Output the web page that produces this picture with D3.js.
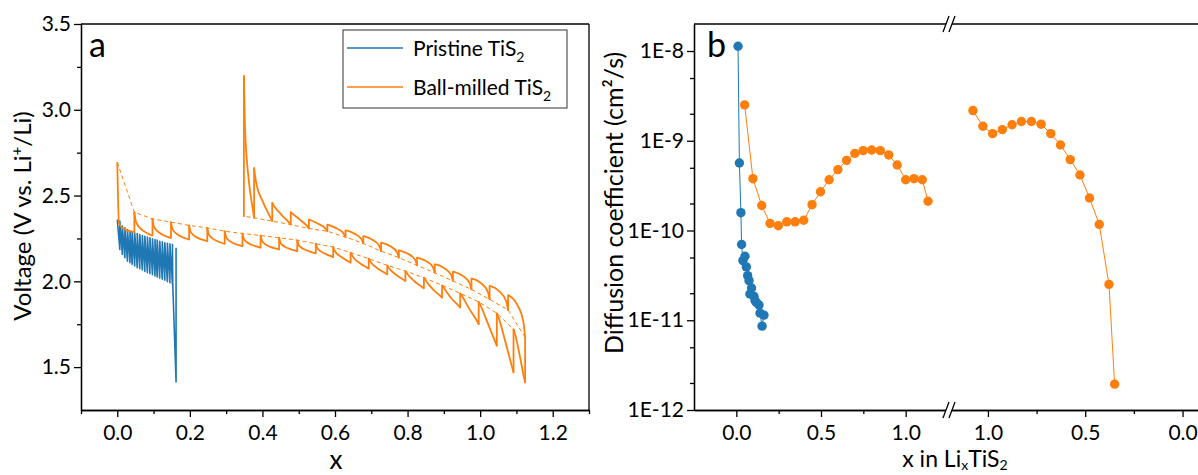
<!DOCTYPE html>
<html><head><meta charset="utf-8">
<script src="https://cdn.jsdelivr.net/npm/d3@7"></script>
<style>
body{margin:0;background:#fff}
svg{display:block}
text{font-family:Lato,"Open Sans",sans-serif;fill:#000}
</style></head><body>
<svg id="chart" width="1198" height="475"></svg>
<script>
// ---------------- Panel a data ----------------
// Pristine TiS2 GITT (discharge only)
const prX   = [0.000,0.007,0.014,0.021,0.028,0.035,0.041,0.048,0.055,0.062,0.069,0.076,0.083,0.090,0.097,0.104,0.110,0.117,0.124,0.131,0.138,0.145,0.152];
const prTop = [2.360,2.351,2.322,2.312,2.302,2.293,2.287,2.283,2.279,2.273,2.267,2.263,2.258,2.254,2.248,2.244,2.240,2.234,2.231,2.225,2.221,2.219,2.215];
const prBot = [2.186,2.157,2.138,2.118,2.109,2.099,2.089,2.080,2.074,2.066,2.058,2.051,2.045,2.039,2.031,2.025,2.019,2.012,2.006,1.998,1.992,1.984];
const prDiveX = [0.153,0.162,0.162];
const prDiveV = [1.975,1.413,2.196];

// Ball-milled TiS2 discharge pulses (x boundaries, relaxed top, values at 10/50/90 % of pulse, end)
const bdX   = [0.000,0.047,0.097,0.148,0.198,0.248,0.296,0.345,0.395,0.446,0.496,0.547,0.595,0.643,0.693,0.744,0.794,0.845,0.895,0.945,0.996,1.046,1.092,1.124];
const bdTop = [2.694,2.403,2.364,2.345,2.326,2.312,2.292,2.279,2.267,2.254,2.240,2.219,2.200,2.167,2.132,2.093,2.060,2.021,1.977,1.930,1.880,1.814,1.721];
const bd10  = [2.335,2.342,2.314,2.300,2.285,2.270,2.253,2.242,2.231,2.220,2.208,2.192,2.175,2.147,2.113,2.076,2.044,2.005,1.962,1.914,1.860,1.790,1.700];
const bd50  = [2.300,2.294,2.274,2.264,2.252,2.238,2.222,2.213,2.202,2.192,2.181,2.163,2.140,2.107,2.074,2.037,1.999,1.953,1.903,1.838,1.756,1.652,1.580];
const bd90  = [2.290,2.271,2.256,2.247,2.237,2.222,2.208,2.199,2.189,2.179,2.166,2.145,2.114,2.080,2.047,2.009,1.967,1.915,1.859,1.770,1.650,1.505,1.440];
const bdBot = [2.287,2.267,2.252,2.244,2.234,2.219,2.205,2.196,2.186,2.176,2.163,2.141,2.109,2.074,2.041,2.002,1.959,1.905,1.847,1.750,1.624,1.469,1.411];

// Ball-milled TiS2 charge pulses (x decreasing)
const bcX    = [1.124,1.077,1.026,0.976,0.925,0.875,0.826,0.776,0.727,0.678,0.629,0.579,0.528,0.478,0.427,0.377,0.349];
const bcOCV  = [1.673,1.833,1.895,1.953,2.002,2.050,2.093,2.138,2.176,2.221,2.258,2.292,2.308,2.331,2.351,2.370,2.380];
const bc10   = [1.762,1.884,1.940,1.990,2.038,2.082,2.125,2.169,2.206,2.245,2.278,2.307,2.322,2.344,2.373,2.411];
const bc50   = [1.870,1.944,1.991,2.034,2.078,2.119,2.161,2.206,2.243,2.278,2.309,2.336,2.360,2.388,2.460,2.577];
const bc90   = [1.914,1.971,2.014,2.054,2.097,2.136,2.178,2.223,2.260,2.295,2.328,2.356,2.394,2.439,2.584,2.908];
const bcPeak = [1.919,1.973,2.016,2.056,2.099,2.138,2.180,2.225,2.263,2.297,2.331,2.360,2.403,2.458,2.661,3.198];

// ---------------- Panel b data ----------------
const pX = [0.010,0.018,0.027,0.031,0.039,0.051,0.059,0.067,0.075,0.080,0.090,0.104,0.110,0.118,0.134,0.140,0.152,0.163];
const pD = [1.13e-8,5.65e-10,1.58e-10,6.98e-11,4.62e-11,5.16e-11,3.93e-11,3.14e-11,2.76e-11,1.96e-11,2.29e-11,1.85e-11,1.66e-11,1.58e-11,1.48e-11,1.20e-11,8.6e-12,1.14e-11];
const bdiffX = [0.049,0.098,0.150,0.199,0.248,0.298,0.347,0.398,0.447,0.497,0.548,0.600,0.651,0.700,0.749,0.799,0.850,0.900,0.950,1.000,1.049,1.098,1.132];
const bdiffD = [2.51e-9,3.78e-10,1.90e-10,1.20e-10,1.13e-10,1.25e-10,1.25e-10,1.30e-10,1.94e-10,2.70e-10,3.68e-10,4.77e-10,6.05e-10,7.24e-10,7.76e-10,7.90e-10,7.76e-10,6.95e-10,5.37e-10,3.68e-10,3.78e-10,3.68e-10,2.12e-10];
const cdiffX = [1.077,1.026,0.976,0.926,0.876,0.828,0.777,0.727,0.677,0.627,0.577,0.527,0.478,0.428,0.378,0.349];
const cdiffD = [2.17e-9,1.45e-9,1.20e-9,1.33e-9,1.51e-9,1.64e-9,1.64e-9,1.53e-9,1.20e-9,8.97e-10,6.17e-10,4.15e-10,2.30e-10,1.17e-10,2.51e-11,1.94e-12];

// tick labels
const aXTicks = [0,0.2,0.4,0.6,0.8,1.0,1.2];
const aXMinor = [-0.1,0.1,0.3,0.5,0.7,0.9,1.1,1.3];
const aYTicks = [1.5,2.0,2.5,3.0,3.5];
const aYMinor = [1.75,2.25,2.75,3.25];
const bYTicks = [1e-12,1e-11,1e-10,1e-9,1e-8];
const bYLabels = ["1E-12","1E-11","1E-10","1E-9","1E-8"];
const bYMinor = [2e-12,5e-12,2e-11,5e-11,2e-10,5e-10,2e-9,5e-9];
const bX1Ticks = [0,0.5,1.0], bX1Minor = [0.25,0.75];
const bX2Ticks = [1.0,0.5,0.0], bX2Minor = [0.75,0.25];

const BLUE = "#1f77b4", ORANGE = "#ff7f0e";
const FR = [0.1,0.5,0.9];
const LW = 1.8;

const svg = d3.select("#chart");

// ---------------- Panel a ----------------
const xA = d3.scaleLinear().domain([-0.1,1.3]).range([81,589]);
const yA = d3.scaleLinear().domain([1.25,3.5]).range([410,24]);
const lineA = d3.line().x(d=>xA(d[0])).y(d=>yA(d[1]));
const curveA = d3.line().x(d=>xA(d[0])).y(d=>yA(d[1])).curve(d3.curveMonotoneX);

const gA = svg.append("g");

function tooth(x0,x1,v0,a,b,c,v1){
  const pts = [[x0,v0]];
  [a,b,c].forEach((v,k)=>pts.push([x0+FR[k]*(x1-x0),v]));
  pts.push([x1,v1]);
  return pts.sort((p,q)=>p[0]-q[0]);
}

// dashed OCV lines
gA.append("path").attr("d",lineA(bdTop.map((v,i)=>[bdX[i],v])))
  .attr("fill","none").attr("stroke",ORANGE).attr("stroke-width",1).attr("stroke-dasharray","4,3");
gA.append("path").attr("d",lineA(bcOCV.map((v,i)=>[bcX[i],v])))
  .attr("fill","none").attr("stroke",ORANGE).attr("stroke-width",1).attr("stroke-dasharray","4,3");

// pristine polyline
const prPts = [];
prTop.forEach((t,i)=>{
  prPts.push([prX[i],t]);
  if(i<prBot.length){ prPts.push([prX[i+1],prBot[i]]); }
});
prDiveX.forEach((x,i)=>prPts.push([x,prDiveV[i]]));
gA.append("path").attr("d",lineA(prPts)).attr("fill","none").attr("stroke",BLUE)
  .attr("stroke-width",1.6).attr("stroke-linejoin","round");

// ball-milled discharge
for(let i=0;i<bdTop.length;i++){
  gA.append("path").attr("d",curveA(tooth(bdX[i],bdX[i+1],bdTop[i],bd10[i],bd50[i],bd90[i],bdBot[i])))
    .attr("fill","none").attr("stroke",ORANGE).attr("stroke-width",LW);
  const nextTop = i+1<bdTop.length ? bdTop[i+1] : bcOCV[0];
  gA.append("path").attr("d",lineA([[bdX[i+1],bdBot[i]],[bdX[i+1],nextTop]]))
    .attr("fill","none").attr("stroke",ORANGE).attr("stroke-width",LW).attr("stroke-linecap","round");
}
// ball-milled charge
for(let i=0;i<bcPeak.length;i++){
  gA.append("path").attr("d",curveA(tooth(bcX[i],bcX[i+1],bcOCV[i],bc10[i],bc50[i],bc90[i],bcPeak[i])))
    .attr("fill","none").attr("stroke",ORANGE).attr("stroke-width",LW);
  gA.append("path").attr("d",lineA([[bcX[i+1],bcPeak[i]],[bcX[i+1],bcOCV[i+1]]]))
    .attr("fill","none").attr("stroke",ORANGE).attr("stroke-width",LW).attr("stroke-linecap","round");
}

// axes a
const axStyle = g=>{ g.selectAll("path,line").attr("stroke","#000").attr("stroke-width",1.3); g.selectAll("text").style("font-size","21px").style("font-family","Lato"); };
gA.append("g").attr("transform","translate(0,410)")
  .call(d3.axisBottom(xA).tickValues(aXTicks).tickFormat(d3.format(".1f")).tickSize(7).tickSizeOuter(0).tickPadding(8)).call(axStyle);
gA.append("g").attr("transform","translate(0,410)")
  .call(d3.axisBottom(xA).tickValues(aXMinor).tickFormat("").tickSize(4).tickSizeOuter(0)).call(axStyle);
gA.append("g").attr("transform","translate(81,0)")
  .call(d3.axisLeft(yA).tickValues(aYTicks).tickFormat(d3.format(".1f")).tickSize(7).tickSizeOuter(0).tickPadding(3)).call(axStyle);
gA.append("g").attr("transform","translate(81,0)")
  .call(d3.axisLeft(yA).tickValues(aYMinor).tickFormat("").tickSize(4).tickSizeOuter(0)).call(axStyle);
gA.append("line").attr("x1",81).attr("x2",589).attr("y1",24).attr("y2",24).attr("stroke","#000").attr("stroke-width",1.3);
gA.append("line").attr("x1",589).attr("x2",589).attr("y1",24).attr("y2",410).attr("stroke","#000").attr("stroke-width",1.3);

gA.append("text").attr("x",89).attr("y",57).style("font-size","34px").text("a");
gA.append("text").attr("x",336).attr("y",469).attr("text-anchor","middle").style("font-size","26px").text("x");
const yla = gA.append("text").attr("transform","translate(31,216) rotate(-90)").attr("text-anchor","middle").style("font-size","24px");
yla.append("tspan").text("Voltage (V vs. Li");
yla.append("tspan").attr("dy",-9).style("font-size","15px").text("+");
yla.append("tspan").attr("dy",9).text("/Li)");

// legend
const lg = gA.append("g");
lg.append("rect").attr("x",343).attr("y",30).attr("width",224).attr("height",78).attr("fill","#fff").attr("stroke","#333").attr("stroke-width",1);
[[BLUE,"Pristine TiS",48],[ORANGE,"Ball-milled TiS",87]].forEach(([c,t,y])=>{
  lg.append("line").attr("x1",347).attr("x2",403).attr("y1",y).attr("y2",y).attr("stroke",c).attr("stroke-width",1.6);
  const tx = lg.append("text").attr("x",413).attr("y",y+8).style("font-size","21px");
  tx.append("tspan").text(t);
  tx.append("tspan").attr("dy",6).style("font-size","14px").text("2");
});

// ---------------- Panel b ----------------
const xB1 = d3.scaleLinear().domain([-0.25,1.25]).range([694,948]);
const xB2 = d3.scaleLinear().domain([1.2,-0.1]).range([949,1202]);
const yB = d3.scaleLog().domain([1e-12,2e-8]).range([410,24]);
const gB = svg.append("g");

function series(xs,ys,xs_scale,color){
  const l = d3.line().x((d,i)=>xs_scale(xs[i])).y((d,i)=>yB(ys[i]));
  gB.append("path").attr("d",l(xs)).attr("fill","none").attr("stroke",color).attr("stroke-width",1);
  gB.selectAll(null).data(xs).enter().append("circle")
    .attr("cx",(d,i)=>xs_scale(xs[i])).attr("cy",(d,i)=>yB(ys[i])).attr("r",4.7).attr("fill",color);
}
series(bdiffX,bdiffD,xB1,ORANGE);
series(cdiffX,cdiffD,xB2,ORANGE);
series(pX,pD,xB1,BLUE);

gB.append("g").attr("transform","translate(0,410)")
  .call(d3.axisBottom(xB1).tickValues(bX1Ticks).tickFormat(d3.format(".1f")).tickSize(7).tickSizeOuter(0).tickPadding(8)).call(axStyle);
gB.append("g").attr("transform","translate(0,410)")
  .call(d3.axisBottom(xB1).tickValues(bX1Minor).tickFormat("").tickSize(4).tickSizeOuter(0)).call(axStyle);
gB.append("g").attr("transform","translate(0,410)")
  .call(d3.axisBottom(xB2).tickValues(bX2Ticks).tickFormat(d3.format(".1f")).tickSize(7).tickSizeOuter(0).tickPadding(8)).call(axStyle);
gB.append("g").attr("transform","translate(0,410)")
  .call(d3.axisBottom(xB2).tickValues(bX2Minor).tickFormat("").tickSize(4).tickSizeOuter(0)).call(axStyle);
gB.append("g").attr("transform","translate(694,0)")
  .call(d3.axisLeft(yB).tickValues(bYTicks).tickFormat((d,i)=>bYLabels[i]).tickSize(7).tickSizeOuter(0).tickPadding(3)).call(axStyle);
gB.append("g").attr("transform","translate(694,0)")
  .call(d3.axisLeft(yB).tickValues(bYMinor).tickFormat("").tickSize(4).tickSizeOuter(0)).call(axStyle);
gB.append("line").attr("x1",694).attr("x2",1198).attr("y1",24).attr("y2",24).attr("stroke","#000").attr("stroke-width",1.3);

// break marks
[24,410].forEach(y=>{
  gB.append("polygon").attr("points",`${943},${y+7} ${949},${y-7} ${955},${y-7} ${949},${y+7}`).attr("fill","#fff");
  [943,949].forEach(x=>{
    gB.append("line").attr("x1",x).attr("y1",y+8).attr("x2",x+6).attr("y2",y-8).attr("stroke","#000").attr("stroke-width",1.3);
  });
});

gB.append("text").attr("x",707).attr("y",57).style("font-size","34px").text("b");
gB.append("text").attr("transform","translate(623,203) rotate(-90)").attr("text-anchor","middle").style("font-size","25px").text("Diffusion coefficient (cm²/s)");
const xlb = gB.append("text").attr("x",955).attr("y",467).attr("text-anchor","middle").style("font-size","23px");
xlb.append("tspan").text("x in Li");
xlb.append("tspan").attr("dy",3).style("font-size","14px").text("x");
xlb.append("tspan").attr("dy",-3).text("TiS");
xlb.append("tspan").attr("dy",3).style("font-size","14px").text("2");
</script>
</body></html>
